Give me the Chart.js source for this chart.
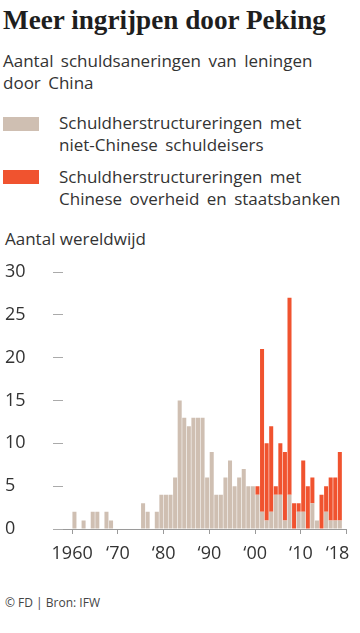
<!DOCTYPE html>
<html>
<head>
<meta charset="utf-8">
<script src="https://cdn.jsdelivr.net/npm/chart.js@4.4.1/dist/chart.umd.min.js"></script>
<style>
  html, body { margin: 0; padding: 0; background: #fff; }
  body { width: 360px; height: 633px; position: relative; overflow: hidden; font-family: "Open Sans", sans-serif; color: #333; }
  .abs { position: absolute; white-space: nowrap; }
  #title { left: 3px; top: 6px; font-family: "Liberation Serif", serif; font-weight: 700; font-size: 27.2px; line-height: 28px; color: #1e1e1e; }
  #sub { left: 3px; top: 50px; font-size: 17px; line-height: 21.7px; word-spacing: 3px; }
  .sw { position: absolute; left: 3px; width: 36px; height: 14px; }
  .lg { left: 59px; font-size: 17px; line-height: 21.7px; word-spacing: 3px; }
  #ytitle { left: 5px; top: 228px; font-size: 17px; line-height: 21px; }
  #foot { left: 5px; top: 595px; font-size: 12px; line-height: 15px; color: #444; }
  #wrap { position: absolute; left: 0; top: 250px; width: 360px; height: 330px; }
</style>
</head>
<body>
<div id="title" class="abs">Meer ingrijpen door Peking</div>
<div id="sub" class="abs">Aantal schuldsaneringen van leningen<br>door China</div>
<div class="sw" style="top:117px;background:#cfbfb2"></div>
<div class="abs lg" style="top:112px">Schuldherstructureringen met<br>niet-Chinese schuldeisers</div>
<div class="sw" style="top:170px;background:#f0532f"></div>
<div class="abs lg" style="top:166px">Schuldherstructureringen met<br>Chinese overheid en staatsbanken</div>
<div id="ytitle" class="abs">Aantal wereldwijd</div>
<div id="wrap"><canvas id="c"></canvas></div>
<div id="foot" class="abs">© FD | Bron: IFW</div>
<script>
const years = [1958,1959,1960,1961,1962,1963,1964,1965,1966,1967,1968,1969,
  1970,1971,1972,1973,1974,1975,1976,1977,1978,1979,
  1980,1981,1982,1983,1984,1985,1986,1987,1988,1989,
  1990,1991,1992,1993,1994,1995,1996,1997,1998,1999,
  2000,2001,2002,2003,2004,2005,2006,2007,2008,2009,
  2010,2011,2012,2013,2014,2015,2016,2017,2018,2019];
const nonChinese = [0,0,2,0,1,0,2,2,0,2,1,0,
  0,0,0,0,0,3,2,0,2,4,
  4,4,6,15,13,12,13,13,13,6,
  9,4,4,6,8,5,6,7,5,5,
  4,2,1,2,4,4,1,4,0,2,
  2,0,3,1,0,2,1,1,1,null];
const chinese = [0,0,0,0,0,0,0,0,0,0,0,0,
  0,0,0,0,0,0,0,0,0,0,
  0,0,0,0,0,0,0,0,0,0,
  0,0,0,0,0,0,0,0,0,0,
  1,19,9,10,1,6,8,23,3,1,
  6,5,3,0,4,3,5,5,8,null];
const xTickLabels = {1960:'1960',1970:'\u201870',1980:'\u201880',1990:'\u201890',2000:'\u201800',2010:'\u201810',2018:'\u201818'};
const yTicks = [0,5,10,15,20,25,30];

const tan = '#cfbfb2';
const red = '#f0532f';
const axisGray = '#9a9a9a';

Chart.defaults.font.family = '"Open Sans", sans-serif';
Chart.defaults.color = '#333';

new Chart(document.getElementById('c'), {
  type: 'bar',
  data: {
    labels: years,
    datasets: [
      { label: 'Schuldherstructureringen met niet-Chinese schuldeisers', data: nonChinese, backgroundColor: tan, borderWidth: 0 },
      { label: 'Schuldherstructureringen met Chinese overheid en staatsbanken', data: chinese, backgroundColor: red, borderWidth: 0 }
    ]
  },
  options: {
    responsive: true,
    maintainAspectRatio: false,
    animation: false,
    datasets: { bar: { categoryPercentage: 1, barPercentage: 0.88 } },
    layout: { padding: { left: 5, right: 13.3, top: 22, bottom: 11 } },
    plugins: { legend: { display: false }, tooltip: { enabled: false } },
    scales: {
      x: {
        stacked: true,
        grid: {
          display: true,
          drawOnChartArea: false,
          drawTicks: true,
          tickLength: 5,
          offset: true,
          color: (ctx) => {
            if (ctx.tick === undefined) return axisGray;
            const y = years[ctx.index];
            return (y % 10 === 0) ? axisGray : 'rgba(0,0,0,0)';
          }
        },
        border: { display: true, color: axisGray, width: 1 },
        ticks: {
          autoSkip: false,
          maxRotation: 0,
          minRotation: 0,
          padding: 9,
          labelOffset: -2.3,
          font: { size: 18 },
          color: '#333',
          callback: function(value, index) { const y = years[index]; return xTickLabels[y] || ''; }
        },
        afterFit: (s) => { s.height = 40; }
      },
      y: {
        stacked: true,
        min: 0,
        max: 30,
        afterBuildTicks: (s) => { s.ticks = yTicks.map(v => ({ value: v })); },
        grid: { drawOnChartArea: false, drawTicks: true, tickLength: 10, color: '#aaa' },
        border: { display: false },
        ticks: { crossAlign: 'far', padding: 4, font: { size: 18 }, color: '#333' },
        afterFit: (s) => { s.width = 58; }
      }
    }
  }
});
</script>
</body>
</html>
